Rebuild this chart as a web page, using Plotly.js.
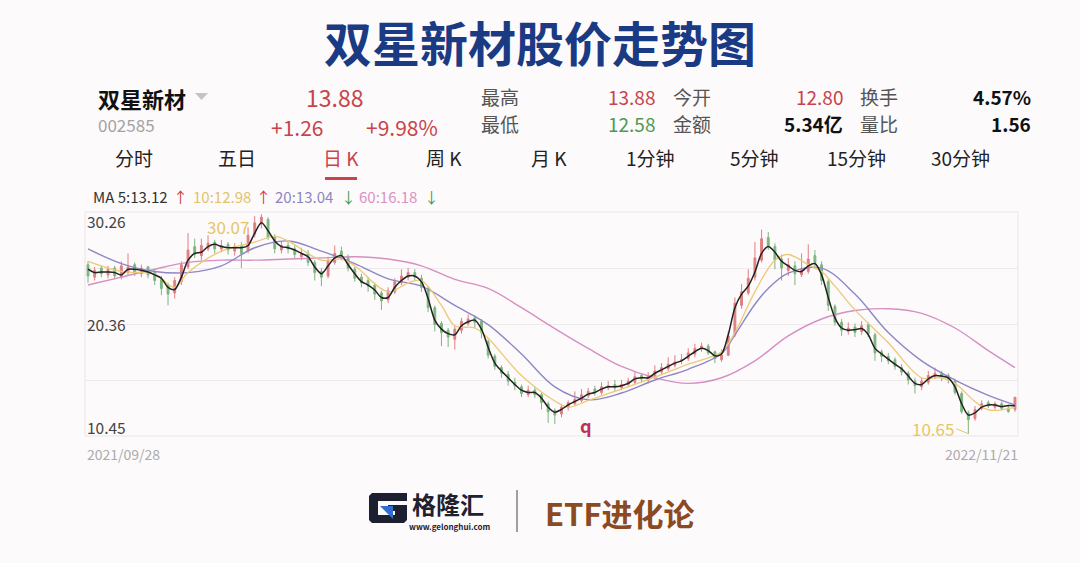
<!DOCTYPE html>
<html>
<head>
<meta charset="utf-8">
<script src="https://cdn.plot.ly/plotly-3.0.1.min.js"></script>
<style>
html,body{margin:0;padding:0;background:#fdfafb;}
#chart{width:1080px;height:563px;}
</style>
</head>
<body>
<div id="chart"></div>
<script>
// ---------------- data ----------------
const chartTitle = '双星新材股价走势图';
const stockName = '双星新材';
const stockCode = '002585';
const lastPrice = '13.88';
const priceChange = '+1.26';
const pctChange = '+9.98%';
const statLabels = ['最高', '最低', '今开', '金额', '换手', '量比'];
const statValues = ['13.88', '12.58', '12.80', '5.34亿', '4.57%', '1.56'];
const tabLabels = ['分时', '五日', '日 K', '周 K', '月 K', '1分钟', '5分钟', '15分钟', '30分钟'];
const activeTab = '日 K';
const maLegend = ['MA 5:13.12', '10:12.98', '20:13.04', '60:16.18'];
const maArrows = ['↑', '↑', '↓', '↓'];
const yLabels = ['30.26', '20.36', '10.45'];
const yMax = 30.26, yMin = 10.45;
const dateLabels = ['2021/09/28', '2022/11/21'];
const highLabel = '30.07';
const lowLabel = '10.65';
const brandName = '格隆汇';
const brandUrl = 'www.gelonghui.com';
const columnName = 'ETF进化论';

const opens = [
  25.6,24.5,25.3,24.7,25.3,24.5,24.9,25.6,24.8,25.4,
  24.9,24.3,23.8,23.1,24.1,25.4,27.2,26.4,27.0,27.6,
  27.0,27.4,26.8,27.3,26.8,28.3,29.2,29.6,28.1,26.9,
  27.3,27.0,26.3,26.6,25.8,25.0,24.6,25.8,26.8,26.3,
  25.2,24.5,24.2,23.8,23.1,22.5,23.2,24.0,24.5,24.9,
  24.4,23.5,21.8,20.4,19.8,19.0,19.8,20.4,20.9,20.6,
  18.8,17.5,16.5,15.9,15.2,14.8,14.1,14.5,14.1,13.3,
  12.7,12.4,13.0,13.3,13.6,14.0,14.6,14.3,14.7,15.0,
  14.7,15.0,15.2,15.8,15.4,15.7,16.1,16.4,16.7,17.1,
  17.3,17.7,18.2,18.4,17.9,17.2,17.6,19.4,22.0,23.1,
  24.5,26.0,28.0,27.2,26.1,25.1,25.5,24.7,25.0,26.4,
  25.6,24.1,21.9,20.5,19.7,20.1,19.7,20.3,19.4,17.9,
  17.5,17.2,16.5,16.0,15.3,14.8,15.2,15.7,16.0,15.8,
  15.3,14.2,12.5,12.0,12.9,13.4,13.0,13.3,12.9,12.80
];
const highs = [
  25.9,25.4,25.5,25.5,25.5,25.9,26.6,25.8,25.6,25.5,
  25.2,24.6,24.0,24.5,25.9,28.4,27.9,27.9,28.2,27.8,
  27.8,27.6,27.5,27.6,28.9,29.9,30.07,29.8,28.3,27.7,
  27.6,27.3,27.1,26.9,26.0,25.3,26.3,27.3,27.2,26.5,
  25.4,24.8,24.5,24.0,23.3,23.6,24.4,25.2,25.3,25.2,
  24.7,23.7,22.0,20.6,20.0,20.2,20.9,21.2,21.1,20.8,
  19.0,17.7,16.7,16.2,15.6,15.0,14.9,14.8,14.3,13.5,
  12.9,13.3,13.6,14.4,14.6,14.7,14.9,15.2,15.3,15.4,
  15.4,15.6,16.1,16.0,16.1,16.7,16.9,17.4,17.6,17.7,
  18.2,18.6,18.7,18.6,18.0,18.1,19.7,22.7,23.9,25.2,
  27.6,28.7,28.5,27.5,26.5,26.2,25.9,26.6,27.4,26.9,
  25.9,24.3,22.1,20.8,20.5,20.4,20.6,20.5,19.6,18.1,
  17.8,17.4,16.8,16.2,15.6,15.6,16.2,16.5,16.2,16.0,
  15.5,14.4,12.7,13.1,13.6,13.6,13.5,13.5,13.2,13.88
];
const lows = [
  24.0,24.2,24.5,24.4,24.3,24.3,24.7,24.6,24.5,24.4,
  23.8,22.9,22.0,22.6,23.8,25.2,26.2,26.0,26.8,26.6,
  26.7,26.5,26.4,25.3,26.6,28.0,28.8,27.8,26.6,26.6,
  26.6,26.2,26.0,25.5,24.2,23.7,24.4,25.6,26.0,25.0,
  24.1,23.6,23.2,22.5,21.6,22.2,23.0,23.8,24.2,24.2,
  23.2,21.4,19.7,18.4,18.3,18.1,19.5,20.2,20.0,19.1,
  17.3,16.3,15.6,14.9,14.5,13.9,13.9,13.8,12.8,11.6,
  11.5,12.1,12.7,13.1,13.4,13.8,14.0,14.1,14.5,14.4,
  14.5,14.8,15.0,15.2,15.1,15.5,15.9,16.2,16.5,16.8,
  17.1,17.4,17.9,17.6,16.9,17.0,17.5,19.2,21.7,22.9,
  24.2,25.8,26.9,25.2,24.2,24.6,23.8,24.5,24.8,25.2,
  23.8,21.5,20.2,19.3,19.4,19.2,19.4,19.2,17.1,17.0,
  16.8,16.3,15.8,15.0,14.2,14.5,15.0,15.5,15.3,15.1,
  14.1,12.4,10.65,11.8,12.7,12.9,12.8,12.7,12.5,12.58
];
const closes = [
  24.6,25.1,24.8,25.2,24.6,25.5,25.4,24.9,25.3,24.7,
  24.2,23.5,23.0,24.2,25.6,26.9,26.5,27.3,27.5,27.0,
  27.3,26.9,27.2,26.6,28.2,29.3,29.8,28.0,27.0,27.3,
  27.0,26.5,26.6,25.8,24.9,24.5,25.9,26.6,26.3,25.3,
  24.4,24.0,23.7,23.0,22.4,23.3,24.1,24.6,24.9,24.5,
  23.6,21.8,20.3,19.6,19.2,19.9,20.6,20.8,20.5,19.6,
  17.6,16.6,16.0,15.3,14.9,14.2,14.5,14.1,13.4,12.6,
  12.3,13.0,13.4,13.7,14.1,14.4,14.3,14.8,14.9,14.7,
  15.0,15.3,15.7,15.5,15.8,16.2,16.5,16.8,17.0,17.2,
  17.8,18.2,18.4,17.8,17.3,17.6,19.3,22.2,23.2,24.4,
  26.2,27.9,27.3,26.0,25.3,25.6,24.8,25.2,26.1,25.8,
  24.2,22.0,20.5,19.8,20.0,19.6,20.2,19.5,17.8,17.5,
  17.1,16.6,16.1,15.4,14.9,15.3,15.8,16.0,15.7,15.5,
  14.3,12.6,11.9,12.8,13.3,13.1,13.3,12.9,12.62,13.88
];
const ma5 = [
  25.2,24.9,24.95,24.95,24.9,24.7,25.2,25.2,25.1,24.95,
  24.7,24.4,23.6,23.4,24.5,26.0,26.6,26.7,27.2,27.4,
  27.2,27.1,27.1,27.1,27.3,28.4,29.3,28.6,27.7,27.2,
  27.1,26.9,26.6,26.3,25.4,24.8,25.5,26.2,26.4,25.6,
  24.8,24.1,23.8,23.36,22.7,22.7,23.6,24.2,24.6,24.6,
  24.1,22.6,20.7,19.9,19.5,19.4,20.2,20.55,20.7,19.9,
  18.3,16.9,16.2,15.6,15.0,14.5,14.3,14.3,13.8,13.0,
  12.55,12.8,13.2,13.5,13.8,14.15,14.3,14.6,14.8,14.8,
  14.9,15.1,15.5,15.6,15.6,16.0,16.3,16.6,16.9,17.1,
  17.5,17.9,18.2,18.0,17.55,17.7,19.4,21.8,23.0,23.7,
  24.95,26.6,27.2,26.7,25.9,25.5,25.1,25.0,25.5,25.7,
  24.7,22.7,20.9,20.0,19.8,19.85,19.95,19.4,18.2,17.7,
  17.25,16.8,16.4,15.75,15.1,15.0,15.5,15.8,15.75,15.6,
  14.8,13.3,12.3,12.5,13.0,13.2,13.2,13.05,13.15,13.12
];
const ma10Idx = [0,5,10,13,15,20,25,28,30,35,38,40,45,48,50,53,55,58,60,65,70,72,75,80,85,90,95,97,100,103,105,108,110,112,115,120,125,128,130,133,135,139];
const ma10 = [25.9,25.0,24.75,23.6,24.9,26.8,27.6,28.1,27.7,26.0,26.1,25.5,23.2,24.0,24.2,22.0,20.2,20.0,19.1,15.8,13.55,13.0,13.6,14.6,15.65,16.8,17.9,19.6,23.2,26.0,26.5,25.6,25.0,23.7,21.6,18.7,15.6,15.6,15.1,13.5,12.75,12.98];
const ma20Idx = [0,5,10,15,20,25,30,35,40,45,50,55,60,65,70,75,80,85,90,95,97,100,102,105,110,115,120,125,130,135,139];
const ma20 = [27.0,25.7,25.0,24.9,25.5,27.1,27.7,26.8,25.7,24.35,23.7,22.0,20.3,17.7,14.8,13.65,14.25,15.4,16.35,17.75,19.4,22.1,23.5,24.85,25.3,23.0,19.6,17.1,15.4,14.05,13.2];
const ma60Idx = [0,5,10,15,20,25,30,35,40,45,50,55,60,65,70,75,80,85,90,95,100,105,110,115,120,125,130,135,139];
const ma60 = [23.8,24.5,25.2,25.8,26.0,26.0,26.1,26.2,26.3,26.1,25.5,24.3,23.5,21.8,19.95,18.2,16.6,15.6,15.1,15.6,17.1,19.3,20.8,21.55,21.7,21.3,20.0,18.0,16.5];

// ---------------- drawing ----------------
const FONT = 'Noto Sans CJK SC, Noto Sans, sans-serif';
const L = 85, R = 1018, T = 212, B = 436, W = 1080, H = 563;
const px = x => (x - L) / (R - L);
const py = y => (B - y) / (B - T);
const idx = closes.map((_, i) => i);

const RED = '#c8444a', GREEN = '#4c9a55';
const CUP = '#e07f80', CDOWN = '#7db57e';

function txt(text, x, y, size, color, anchor, extra) {
  return Object.assign({
    xref: 'paper', yref: 'paper', x: px(x), y: py(y), text: text,
    showarrow: false, xanchor: anchor || 'left', yanchor: 'middle',
    font: {family: FONT, size: size, color: color}
  }, extra || {});
}

const traces = [
  {type: 'candlestick', x: idx, open: opens, high: highs, low: lows, close: closes,
   increasing: {line: {color: CUP, width: 1}, fillcolor: CUP},
   decreasing: {line: {color: CDOWN, width: 1}, fillcolor: CDOWN},
   whiskerwidth: 0, hoverinfo: 'skip'},
  {type: 'scatter', mode: 'lines', x: ma60Idx, y: ma60, line: {color: '#d68fc3', width: 1.4, shape: 'spline', smoothing: 1}, hoverinfo: 'skip'},
  {type: 'scatter', mode: 'lines', x: ma20Idx, y: ma20, line: {color: '#8f86c4', width: 1.4, shape: 'spline', smoothing: 1}, hoverinfo: 'skip'},
  {type: 'scatter', mode: 'lines', x: ma10Idx, y: ma10, line: {color: '#ecc976', width: 1.3, shape: 'spline', smoothing: 1}, hoverinfo: 'skip'},
  {type: 'scatter', mode: 'lines', x: idx, y: ma5, line: {color: '#222222', width: 1.5, shape: 'spline', smoothing: 0.8}, hoverinfo: 'skip'}
];

const ann = [];
// header
ann.push(txt('<b>' + stockName + '</b>', 96, 98, 22, '#111', 'left'));
ann.push(txt(stockCode, 96, 124, 17, '#a3a3a3', 'left'));
ann.push(txt(lastPrice, 334, 97, 23, RED, 'center'));
ann.push(txt(priceChange, 297, 127, 21, RED, 'center'));
ann.push(txt(pctChange, 402, 127, 21, RED, 'center'));
const statLabelX = [479, 479, 671, 671, 858, 858];
const statValueX = [657, 657, 845, 845, 1033, 1033];
const rowY = [96, 123, 96, 123, 96, 123];
const valColors = [RED, GREEN, RED, '#111', '#111', '#111'];
statLabels.forEach((s, i) => {
  ann.push(txt(s, statLabelX[i], rowY[i], 19, '#555', 'left'));
  const v = i >= 3 ? '<b>' + statValues[i] + '</b>' : statValues[i];
  ann.push(txt(v, statValueX[i], rowY[i], 19, valColors[i], 'right'));
});
// tabs
const tabX = [134, 237, 341, 444, 549, 650, 754, 856, 960];
tabLabels.forEach((t, i) => {
  ann.push(txt(t, tabX[i], 157, 19, t === activeTab ? RED : '#222', 'center'));
});
// MA legend
const maColors = ['#333', '#e2c36c', '#8e86c2', '#d893c4'];
const maX = [91, 191, 273, 357];
const arrX = [171, 254, 339, 422];
maLegend.forEach((m, i) => {
  ann.push(txt(m, maX[i], 196, 15, maColors[i], 'left'));
  ann.push(txt(maArrows[i], arrX[i], 196, 15, maArrows[i] === '↑' ? '#d04040' : '#3f9a4f', 'left'));
});
// y labels
const yLabY = [221, 323.5, 427];
yLabels.forEach((s, i) => ann.push(txt(s, 85, yLabY[i], 15.5, '#444', 'left')));
// date labels
ann.push(txt(dateLabels[0], 85, 454, 14, '#ababab', 'left'));
ann.push(txt(dateLabels[1], 1020, 454, 14, '#ababab', 'right'));
// high / low markers
ann.push({xref: 'x', yref: 'y', x: highs.indexOf(Math.max(...highs)), y: Math.max(...highs), text: highLabel,
  showarrow: false, xanchor: 'right', yanchor: 'top', xshift: -10, yshift: 2,
  font: {family: FONT, size: 17, color: '#e6c664'}});
ann.push({xref: 'x', yref: 'y', x: lows.indexOf(Math.min(...lows)), y: Math.min(...lows), text: lowLabel,
  showarrow: true, arrowhead: 0, arrowwidth: 1, arrowcolor: '#e6c664', ax: -12, ay: -5,
  xanchor: 'right', yanchor: 'middle',
  font: {family: FONT, size: 17, color: '#e6c664'}});
ann.push(txt('<b>q</b>', 586, 425, 18, '#c03050', 'center'));
// footer
ann.push(txt('<b>' + brandName + '</b>', 410, 503, 24, '#1d2130', 'left'));
ann.push(txt('<b>' + brandUrl + '</b>', 449, 526, 8, '#1d2130', 'center', {borderpad: 0}));
ann.push(txt('<b>' + columnName + '</b>', 543, 512, 31, '#8b4a22', 'left'));

// shapes
function pathOf(pts) {
  return pts.map(p => (px(p[0]).toFixed(5) + ',' + py(p[1]).toFixed(5))).join(' ');
}
function poly(pts) {
  return 'M' + pts.map(p => pathOf([p])).join(' L') + ' Z';
}
const shapes = [
  {type: 'rect', xref: 'paper', yref: 'paper', x0: 0, x1: 1, y0: 0, y1: 1, line: {color: '#ebe6e8', width: 1}, layer: 'below'},
  {type: 'rect', xref: 'paper', yref: 'paper', x0: px(325), x1: px(357), y0: py(180), y1: py(177), fillcolor: RED, line: {width: 0}},
  {type: 'path', xref: 'paper', yref: 'paper', path: poly([[195, 93], [208, 93], [201.5, 100]]), fillcolor: '#c4c4c4', line: {width: 0}},
  {type: 'line', xref: 'paper', yref: 'paper', x0: px(517), x1: px(517), y0: py(490), y1: py(532), line: {color: '#444', width: 1}},
  {type: 'path', xref: 'paper', yref: 'paper', fillcolor: '#1c2030', line: {width: 0},
   path: poly([[369, 496], [372, 493], [407, 493], [407, 501], [378, 501], [378, 515], [395, 515], [395, 511],
               [388, 511], [388, 505], [407, 505], [407, 520], [404, 523], [372, 523], [369, 520]])},
  {type: 'path', xref: 'paper', yref: 'paper', fillcolor: '#2f6fd2', line: {width: 0},
   path: poly([[380, 506], [393, 506], [393, 519]])}
];

const layout = {
  width: W, height: H,
  margin: {l: L, r: W - R, t: T, b: H - B, pad: 0},
  paper_bgcolor: '#fdfafb', plot_bgcolor: '#fdfafb',
  showlegend: false,
  boxgap: 0.6,
  title: {text: '<b>' + chartTitle + '</b>', x: 0.5, xref: 'container', xanchor: 'center',
          y: 1 - 45 / H, yref: 'container', yanchor: 'middle',
          font: {family: FONT, size: 48, color: '#1b3a84'}},
  xaxis: {range: [-0.45, closes.length - 0.55], showgrid: false, zeroline: false, showticklabels: false,
          ticks: '', showline: false, rangeslider: {visible: false}, fixedrange: true},
  yaxis: {range: [yMin, yMax], tickvals: [yMin, yMin + (yMax - yMin) / 4, yMin + (yMax - yMin) / 2, yMin + 3 * (yMax - yMin) / 4, yMax],
          showticklabels: false, ticks: '', showgrid: true, gridcolor: '#efeaec', gridwidth: 1, zeroline: false, showline: false, fixedrange: true},
  annotations: ann,
  shapes: shapes
};

Plotly.newPlot('chart', traces, layout, {staticPlot: true, displayModeBar: false});
</script>
</body>
</html>
